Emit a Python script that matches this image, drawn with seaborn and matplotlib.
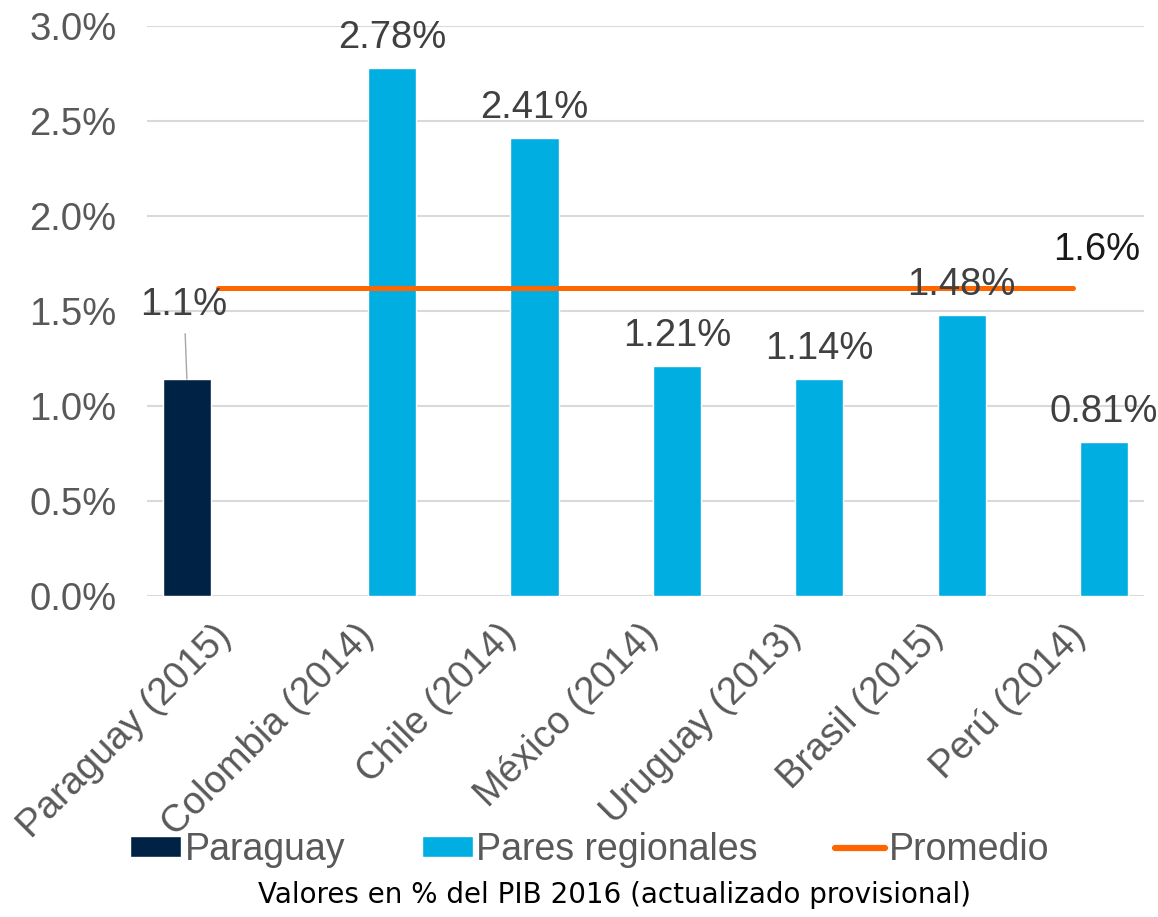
import pandas as pd
import matplotlib.pyplot as plt
import seaborn as sns
import numpy as np
from matplotlib.patches import Patch
from matplotlib.lines import Line2D
from matplotlib.transforms import ScaledTranslation

# Datos del grafico
paises = ["Paraguay (2015)", "Colombia (2014)", "Chile (2014)", "México (2014)",
          "Uruguay (2013)", "Brasil (2015)", "Perú (2014)"]
series = ["Paraguay", "Pares regionales", "Pares regionales", "Pares regionales",
          "Pares regionales", "Pares regionales", "Pares regionales"]
valores = [1.14, 2.78, 2.41, 1.21, 1.14, 1.48, 0.81]
etiquetas = ["1.1%", "2.78%", "2.41%", "1.21%", "1.14%", "1.48%", "0.81%"]
promedio = [1.62, 1.62, 1.62, 1.62, 1.62, 1.62, 1.62]
etiqueta_promedio = "1.6%"
leyenda = ["Paraguay", "Pares regionales", "Promedio"]
nota = "Valores en % del PIB 2016 (actualizado provisional)"

azul_oscuro = "#002244"
azul_claro = "#00AEE2"
naranja = "#FF6600"
gris_texto = "#595959"
gris_etiqueta = "#404040"
fs = 27.5

df = pd.DataFrame({"pais": paises, "serie": series, "valor": valores})

sns.set_style("white")
plt.rcParams["font.family"] = ["Liberation Sans", "DejaVu Sans"]

fig = plt.figure(figsize=(11.58, 9.17), dpi=100)
ax = fig.add_axes([147 / 1158, 1 - 595.7 / 917, (1144 - 147) / 1158, (595.7 - 25.7) / 917])

sns.barplot(data=df, x="pais", y="valor", hue="serie", order=paises,
            hue_order=["Paraguay", "Pares regionales"],
            palette=[azul_oscuro, azul_claro], saturation=1, dodge=True,
            width=0.88, gap=0.23, legend=False, ax=ax)

sns.lineplot(x=np.arange(len(paises)), y=promedio, color=naranja, linewidth=3.6,
             solid_capstyle="round", ax=ax)

ax.set_xlim(-0.5, len(paises) - 0.5)
ax.set_ylim(0, 3.0)
ax.set_yticks(np.arange(0, 3.01, 0.5))
ax.set_yticklabels([f"{t:.1f}%" for t in np.arange(0, 3.01, 0.5)])
ax.set_xlabel("")
ax.set_ylabel("")
ax.set_axisbelow(True)
ax.yaxis.grid(True, color="#D9D9D9", linewidth=1.5)
for s in ax.spines.values():
    s.set_visible(False)

ax.tick_params(axis="y", length=0, pad=22, labelsize=fs, labelcolor=gris_texto)
ax.tick_params(axis="x", length=0, pad=25, labelsize=fs, labelcolor=gris_texto)
desplaza = ScaledTranslation(7 / 100, 0, fig.dpi_scale_trans)
for lab in ax.get_xticklabels():
    lab.set_rotation(45)
    lab.set_ha("right")
    lab.set_va("center")
    lab.set_rotation_mode("anchor")
    lab.set_transform(lab.get_transform() + desplaza)

# etiquetas de datos
for cont in ax.containers:
    for bar in cont:
        h = bar.get_height()
        if np.isnan(h) or h == 0:
            continue
        xc = bar.get_x() + bar.get_width() / 2
        i = int(round(xc))
        if i == 0:
            ax.annotate(etiquetas[i], xy=(xc, h), xytext=(-2, 53), textcoords="offset points",
                        ha="center", va="center", fontsize=fs, color=gris_etiqueta,
                        arrowprops=dict(arrowstyle="-", color="#A6A6A6", lw=1,
                                        shrinkA=5, shrinkB=0))
        else:
            ax.annotate(etiquetas[i], xy=(xc, h), xytext=(0, 8.5), textcoords="offset points",
                        ha="center", va="bottom", fontsize=fs, color=gris_etiqueta)

ax.annotate(etiqueta_promedio, xy=(len(paises) - 1, promedio[-1]), xytext=(17, 27),
            textcoords="offset points", ha="center", va="center", fontsize=fs,
            color="#1A1A1A")

handles = [Patch(facecolor=azul_oscuro), Patch(facecolor=azul_claro),
           Line2D([0], [0], color=naranja, lw=4.5, solid_capstyle="round")]
fig.legend(handles, leyenda, loc="center", bbox_to_anchor=(590 / 1158, 1 - 850 / 917),
           ncol=3, frameon=False, fontsize=27, handlelength=1.35, handleheight=0.5,
           handletextpad=0.1, columnspacing=2.05, labelcolor=gris_texto)

fig.text(615 / 1158, 1 - 895 / 917, nota, ha="center", va="center",
         family="DejaVu Sans", fontsize=20, color="black")

fig.savefig("out.png", dpi=100)
